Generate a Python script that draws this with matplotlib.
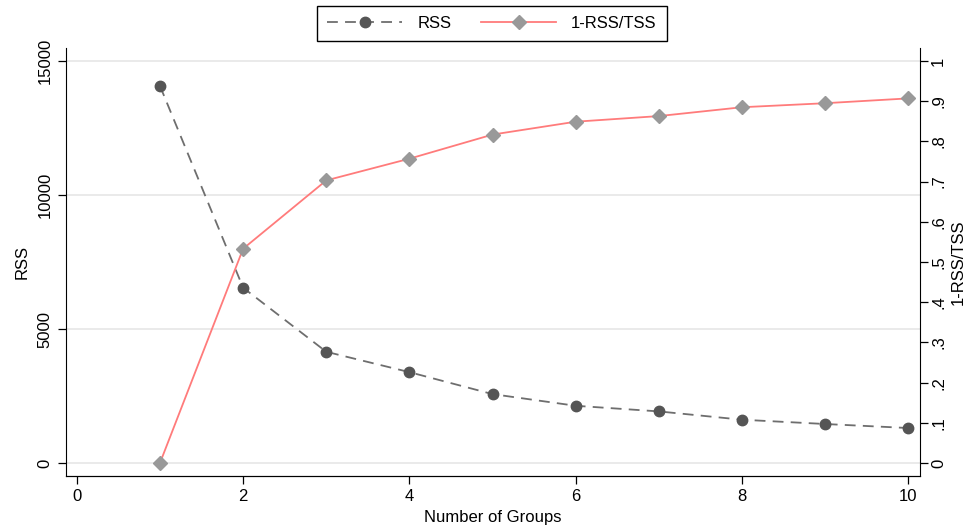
import numpy as np
import matplotlib
matplotlib.use('Agg')
import matplotlib.pyplot as plt
from matplotlib import font_manager

# pick a narrow Arial-like font if available
names = set(f.name for f in font_manager.fontManager.ttflist)
fam = 'Liberation Sans Narrow' if 'Liberation Sans Narrow' in names else 'Liberation Sans'
plt.rcParams['font.family'] = [fam, 'DejaVu Sans']

groups = [1, 2, 3, 4, 5, 6, 7, 8, 9, 10]
rss = [14070, 6540, 4150, 3390, 2570, 2135, 1925, 1615, 1455, 1305]
r2 = [0.0, 0.533, 0.703, 0.757, 0.817, 0.849, 0.863, 0.885, 0.895, 0.907]

fig = plt.figure(figsize=(9.69, 5.32), dpi=100)
ax = fig.add_axes([66/969, 56/532, (920-66)/969, (476-48)/532])
ax2 = ax.twinx()

l1, = ax.plot(groups, rss, color='#6e6e6e', ls=(0, (6, 4)), lw=1.3,
              marker='o', ms=7.5, mfc='#555555', mec='#555555', label='RSS', zorder=3)
l2, = ax2.plot(groups, r2, color='#ff7b7b', lw=1.3,
               marker='D', ms=7.5, mfc='#999999', mec='#999999', label='1-RSS/TSS', zorder=3)

ax.set_xlim(-0.13, 10.14)
ax.set_ylim(-485, 15485)
ax2.set_ylim(-485/15000, 15485/15000)

ax.set_xticks([0, 2, 4, 6, 8, 10])
ax.set_yticks([0, 5000, 10000, 15000])
ax.set_yticklabels(['0', '5000', '10000', '15000'], rotation=90, va='center')
ax.yaxis.grid(True, color='#e6e6e6', lw=1.2)
ax.set_axisbelow(True)

r2ticks = [i/10 for i in range(11)]
r2labels = ['0', '.1', '.2', '.3', '.4', '.5', '.6', '.7', '.8', '.9', '1']
ax2.set_yticks(r2ticks)
ax2.set_yticklabels(r2labels, rotation=90, va='center')

for a in (ax, ax2):
    a.spines['top'].set_visible(False)
    a.tick_params(labelsize=12, length=6, width=0.9, direction='out')
ax2.tick_params(pad=2)
ax.spines['right'].set_visible(False)
ax2.spines['left'].set_visible(False)

ax.set_xlabel('Number of Groups', fontsize=12, labelpad=4)
ax.set_ylabel('RSS', fontsize=12, labelpad=6)
ax2.set_ylabel('1-RSS/TSS', fontsize=12, rotation=90)
ax2.yaxis.set_label_coords(1.0355, 0.5)

leg = fig.legend([l1, l2], ['RSS', '1-RSS/TSS'], loc='center', ncol=2,
                 bbox_to_anchor=(492/969, 1 - 23/532), fontsize=12, fancybox=False,
                 edgecolor='black', framealpha=1, handlelength=4.5, columnspacing=1.8,
                 borderpad=0.6, handletextpad=0.9)
leg.get_frame().set_linewidth(1.0)

fig.savefig('out.png', dpi=100)
